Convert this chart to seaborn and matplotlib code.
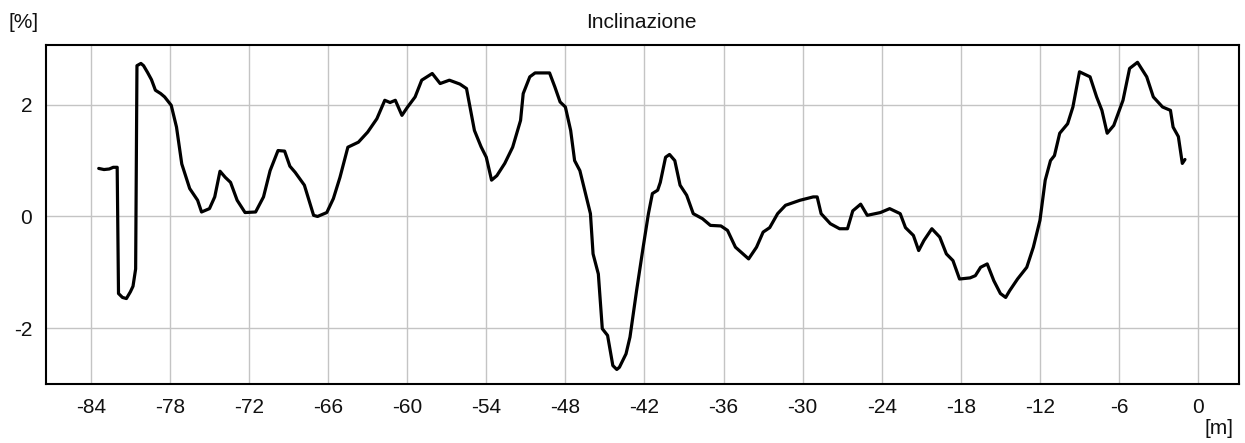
import matplotlib
matplotlib.use("Agg")
import matplotlib.pyplot as plt
import seaborn as sns
import pandas as pd

distance_m = [
    -83.4, -83.0, -82.6, -82.3, -82.0, -81.9, -81.6, -81.3, -81.0, -80.8, -80.6,
    -80.5, -80.2, -80.0, -79.7, -79.4, -79.1, -78.7, -78.4, -77.9, -77.5, -77.1,
    -76.5, -75.9, -75.6, -75.0, -74.6, -74.2, -73.8, -73.4, -72.9, -72.3, -71.5,
    -70.9, -70.4, -69.8, -69.3, -68.9, -68.5, -67.8, -67.1, -66.8, -66.1, -65.6,
    -65.1, -64.5, -63.7, -63.0, -62.3, -61.7, -61.3, -60.9, -60.4, -60.0, -59.4,
    -58.9, -58.1, -57.5, -56.8, -56.0, -55.5, -54.9, -54.4, -54.0, -53.6, -53.2,
    -52.6, -52.0, -51.4, -51.2, -50.7, -50.3, -49.2, -48.8, -48.4, -48.0, -47.6,
    -47.3, -46.9, -46.1, -45.9, -45.5, -45.2, -44.8, -44.4, -44.1, -43.9, -43.4,
    -43.1, -42.6, -42.1, -41.7, -41.4, -41.0, -40.8, -40.4, -40.1, -39.7, -39.3,
    -38.8, -38.3, -37.6, -37.0, -36.2, -35.7, -35.1, -34.1, -33.5, -33.0, -32.5,
    -31.9, -31.3, -30.2, -29.2, -28.9, -28.6, -27.9, -27.2, -26.6, -26.2, -25.6,
    -25.1, -24.1, -23.4, -22.6, -22.2, -21.6, -21.2, -20.8, -20.2, -19.6, -19.1,
    -18.6, -18.1, -17.3, -16.9, -16.5, -16.0, -15.5, -15.0, -14.6, -14.3, -13.7,
    -13.0, -12.5, -12.0, -11.6, -11.2, -10.9, -10.5, -9.9, -9.5, -9.0, -8.2,
    -7.7, -7.3, -6.9, -6.4, -5.7, -5.2, -4.6, -3.9, -3.4, -2.7, -2.1, -1.9,
    -1.5, -1.2, -1.0,
]
inclination_pct = [
    0.86, 0.84, 0.85, 0.88, 0.88, -1.38, -1.45, -1.47, -1.35, -1.25, -0.94,
    2.70, 2.74, 2.70, 2.58, 2.45, 2.26, 2.20, 2.14, 1.99, 1.60, 0.94,
    0.50, 0.29, 0.08, 0.14, 0.35, 0.81, 0.70, 0.61, 0.29, 0.07, 0.08,
    0.35, 0.82, 1.18, 1.17, 0.90, 0.79, 0.56, 0.02, 0.00, 0.07, 0.32,
    0.70, 1.24, 1.33, 1.51, 1.75, 2.08, 2.04, 2.08, 1.81, 1.95, 2.14,
    2.44, 2.56, 2.38, 2.44, 2.37, 2.29, 1.54, 1.25, 1.06, 0.65, 0.73,
    0.95, 1.24, 1.72, 2.20, 2.50, 2.57, 2.57, 2.32, 2.05, 1.96, 1.54,
    1.00, 0.82, 0.05, -0.67, -1.03, -2.01, -2.13, -2.67, -2.74, -2.70, -2.46,
    -2.16, -1.33, -0.55, 0.05, 0.41, 0.47, 0.61, 1.06, 1.11, 1.00, 0.56,
    0.38, 0.05, -0.04, -0.16, -0.17, -0.25, -0.55, -0.76, -0.55, -0.28, -0.20,
    0.05, 0.20, 0.29, 0.35, 0.35, 0.05, -0.13, -0.22, -0.22, 0.10, 0.22,
    0.02, 0.07, 0.14, 0.05, -0.20, -0.34, -0.61, -0.43, -0.22, -0.37, -0.67,
    -0.79, -1.12, -1.10, -1.06, -0.91, -0.85, -1.15, -1.38, -1.45, -1.33, -1.12,
    -0.91, -0.55, -0.07, 0.65, 1.00, 1.09, 1.49, 1.66, 1.96, 2.59, 2.50,
    2.14, 1.90, 1.49, 1.63, 2.08, 2.65, 2.76, 2.50, 2.14, 1.96, 1.90, 1.60,
    1.43, 0.95, 1.02,
]
x_ticks = [-84, -78, -72, -66, -60, -54, -48, -42, -36, -30, -24, -18, -12, -6, 0]
y_ticks = [-2, 0, 2]
title = "Inclinazione"
y_unit = "[%]"
x_unit = "[m]"

sns.set_theme(style="white")
plt.rcParams["font.family"] = ["Liberation Sans", "DejaVu Sans"]

df = pd.DataFrame({"x": distance_m, "y": inclination_pct})

fig = plt.figure(figsize=(12.45, 4.43), dpi=100)
ax = fig.add_axes([46 / 1245, 59 / 443, (1239 - 46) / 1245, (384 - 45) / 443])

sns.lineplot(data=df, x="x", y="y", ax=ax, sort=False, estimator=None,
             color="black", linewidth=2.3, zorder=3)

ax.set_xlim(-87.4, 3.1)
ax.set_ylim(-3.0, 3.07)
ax.set_xticks(x_ticks)
ax.set_yticks(y_ticks)
ax.set_xticklabels([str(t) for t in x_ticks])
ax.set_yticklabels([str(t) for t in y_ticks])
ax.grid(True, color="#c4c4c4", linewidth=1.0)
ax.set_axisbelow(True)
for s in ax.spines.values():
    s.set_color("black")
    s.set_linewidth(1.5)
ax.tick_params(axis="both", length=0, labelsize=15, colors="#111111")
ax.tick_params(axis="x", pad=10)
ax.tick_params(axis="y", pad=10)
ax.set_xlabel("")
ax.set_ylabel("")

fig.text(641 / 1245, 1 - 22 / 443, title, ha="center", va="center", fontsize=15, color="#111111")
fig.text(9 / 1245, 1 - 23 / 443, y_unit, ha="left", va="center", fontsize=15, color="#111111")
fig.text(1233 / 1245, 1 - 428 / 443, x_unit, ha="right", va="center", fontsize=15, color="#111111")

fig.savefig("out.png", dpi=100, facecolor="white")
